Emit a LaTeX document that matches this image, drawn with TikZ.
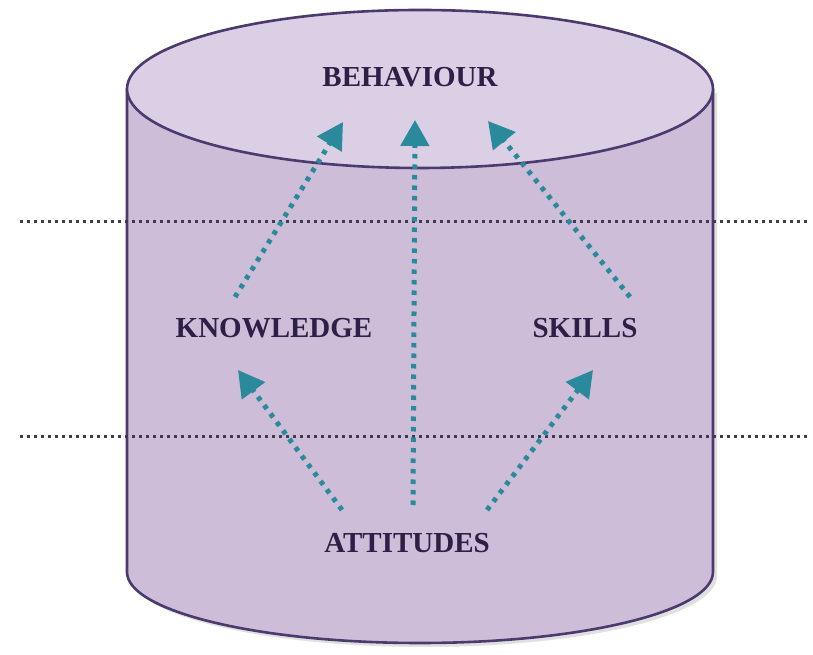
\documentclass[tikz,border=0pt]{standalone}
\usepackage{fontspec}
\setmainfont{Liberation Serif}
\usetikzlibrary{arrows.meta}
\definecolor{cylbody}{HTML}{CDBDD9}
\definecolor{cyltop}{HTML}{DBCFE5}
\definecolor{cylline}{HTML}{4B3A6E}
\definecolor{arrowteal}{HTML}{2A8A9C}
\definecolor{labeltext}{HTML}{2D1F45}
\definecolor{guidegray}{HTML}{3F3A4E}
\tikzset{
  lbl/.style={inner sep=0pt, text=labeltext, font=\fontsize{29}{31}\selectfont\bfseries},
  flow/.style={draw=arrowteal, line width=5pt, dash pattern=on 4.5pt off 6pt,
    -{Triangle[length=26pt,width=28pt]}, shorten >=0pt},
  guide/.style={draw=guidegray, line width=3pt, dash pattern=on 3pt off 4pt}
}
\begin{document}
\begin{tikzpicture}[x=1pt,y=1pt]
\useasboundingbox (0,0) rectangle (813,655);
% shadow
\fill[black, opacity=0.12] (131,562) -- (131,79) arc[start angle=180,end angle=360,x radius=293,y radius=71] -- (717,562) -- cycle;
% body
\filldraw[fill=cylbody, draw=cylline, line width=2.6pt]
  (127,566) -- (127,83) arc[start angle=180,end angle=360,x radius=293,y radius=71] -- (713,566);
% top
\filldraw[fill=cyltop, draw=cylline, line width=2.6pt] (420,566) ellipse[x radius=293,y radius=79];
% guides
\coordinate (g1a) at (20,433); \coordinate (g1b) at (810,433);
\coordinate (g2a) at (20,218); \coordinate (g2b) at (810,218);
\draw[guide] (g1a) -- (g1b);
\draw[guide] (g2a) -- (g2b);
% labels
\node[lbl] (beh) at (410,578) {BEHAVIOUR};
\node[lbl] (kno) at (274,327) {KNOWLEDGE};
\node[lbl] (ski) at (585,327) {SKILLS};
\node[lbl] (att) at (407,112) {ATTITUDES};
% arrow ends
\coordinate (k1) at (235,358); \coordinate (b1) at (343,533);
\coordinate (a0) at (413,150); \coordinate (b0) at (415,535);
\coordinate (s1) at (630,358); \coordinate (b2) at (488,534);
\coordinate (a1) at (342,145); \coordinate (k0) at (238,285);
\coordinate (a2) at (487,145); \coordinate (s0) at (593,285);
\draw[flow] (k1) -- (b1);
\draw[flow] (a0) -- (b0);
\draw[flow] (s1) -- (b2);
\draw[flow] (a1) -- (k0);
\draw[flow] (a2) -- (s0);
\end{tikzpicture}
\end{document}
